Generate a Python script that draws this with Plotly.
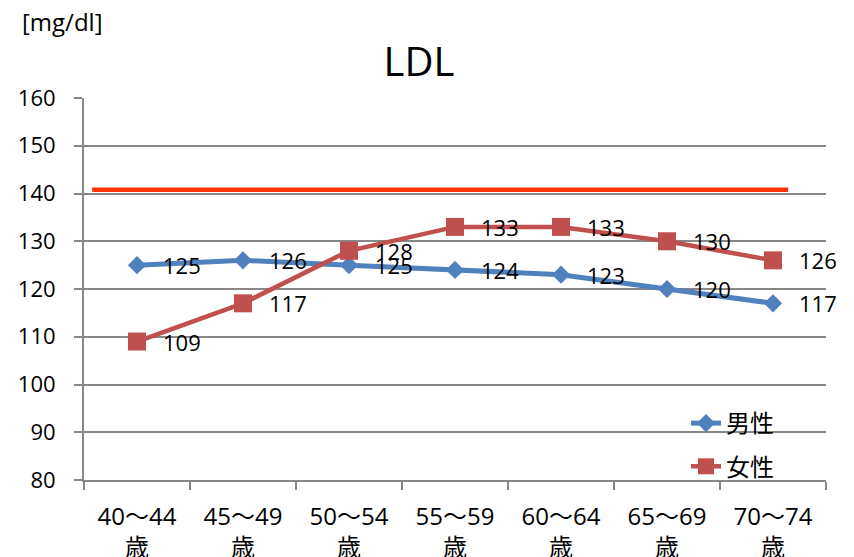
import plotly.graph_objects as go

# Age groups and mean LDL cholesterol (mg/dl)
age_groups = ["40～44<br>歳", "45～49<br>歳", "50～54<br>歳", "55～59<br>歳",
              "60～64<br>歳", "65～69<br>歳", "70～74<br>歳"]
male_ldl = [125, 126, 125, 124, 123, 120, 117]
female_ldl = [109, 117, 128, 133, 133, 130, 126]
ldl_limit = 140.8

FONT = "Open Sans, Noto Sans CJK JP, sans-serif"
GRID = "#878787"
BLUE = "#4F81BD"
RED = "#C0504D"

fig = go.Figure()

fig.add_trace(go.Scatter(
    x=age_groups, y=male_ldl, name="男性", mode="lines+markers",
    line=dict(color=BLUE, width=5),
    marker=dict(symbol="diamond", size=14, color=BLUE),
    legendgroup="m",
))
fig.add_trace(go.Scatter(
    x=age_groups, y=female_ldl, name="女性", mode="lines+markers",
    line=dict(color=RED, width=4.5),
    marker=dict(symbol="square", size=18, color=RED),
    legendgroup="f",
))

# Reference limit line
fig.add_shape(type="line", xref="x domain", yref="y",
              x0=0.011, x1=0.949, y0=ldl_limit, y1=ldl_limit,
              line=dict(color="#FF3300", width=4.5), layer="above")

# Value labels to the right of each point
annotations = []
for series in (male_ldl, female_ldl):
    for cat, v in zip(age_groups, series):
        annotations.append(dict(
            x=cat, y=v, xref="x", yref="y", text=str(v), showarrow=False,
            xanchor="left", yanchor="middle", xshift=24,
            font=dict(family=FONT, size=22, color="#000000"),
        ))

# Unit label above the y axis
annotations.append(dict(
    text="[mg/dl]", xref="paper", yref="paper",
    x=(20 - 84) / 742, y=1 + (98 - 21) / 382,
    xanchor="left", yanchor="middle", showarrow=False,
    font=dict(family=FONT, size=24, color="#000000"),
))

fig.update_layout(
    width=854, height=557, autosize=False,
    margin=dict(l=84, r=28, t=98, b=77),
    paper_bgcolor="white", plot_bgcolor="white",
    font=dict(family=FONT, color="#000000"),
    title=dict(text="LDL", x=419 / 854, xref="container", xanchor="center",
               y=1 - 62 / 557, yref="container", yanchor="middle",
               font=dict(family=FONT, size=40, color="#000000")),
    showlegend=True,
    legend=dict(x=(686 - 84) / 742, xanchor="left",
                y=(480 - 401) / 382, yanchor="top",
                bgcolor="rgba(0,0,0,0)", tracegroupgap=9,
                traceorder="grouped",
                font=dict(family=FONT, size=24, color="#000000")),
    annotations=annotations,
)

fig.update_xaxes(
    type="category", range=[-0.5, 6.5], showgrid=False, automargin=False,
    showline=True, linecolor=GRID, linewidth=2,
    ticks="outside", tickson="boundaries", ticklen=8, tickcolor=GRID, tickwidth=2,
    tickfont=dict(family=FONT, size=24, color="#000000"),
    ticklabelstandoff=14,
)
fig.update_yaxes(
    range=[80, 160], dtick=10, showgrid=True, gridcolor=GRID, gridwidth=1.5,
    showline=True, linecolor=GRID, linewidth=2, zeroline=False, automargin=False,
    ticks="outside", ticklen=8, tickcolor=GRID, tickwidth=1.5,
    tickfont=dict(family=FONT, size=22, color="#000000"),
    ticklabelstandoff=14,
)

fig.write_html("out.html")
